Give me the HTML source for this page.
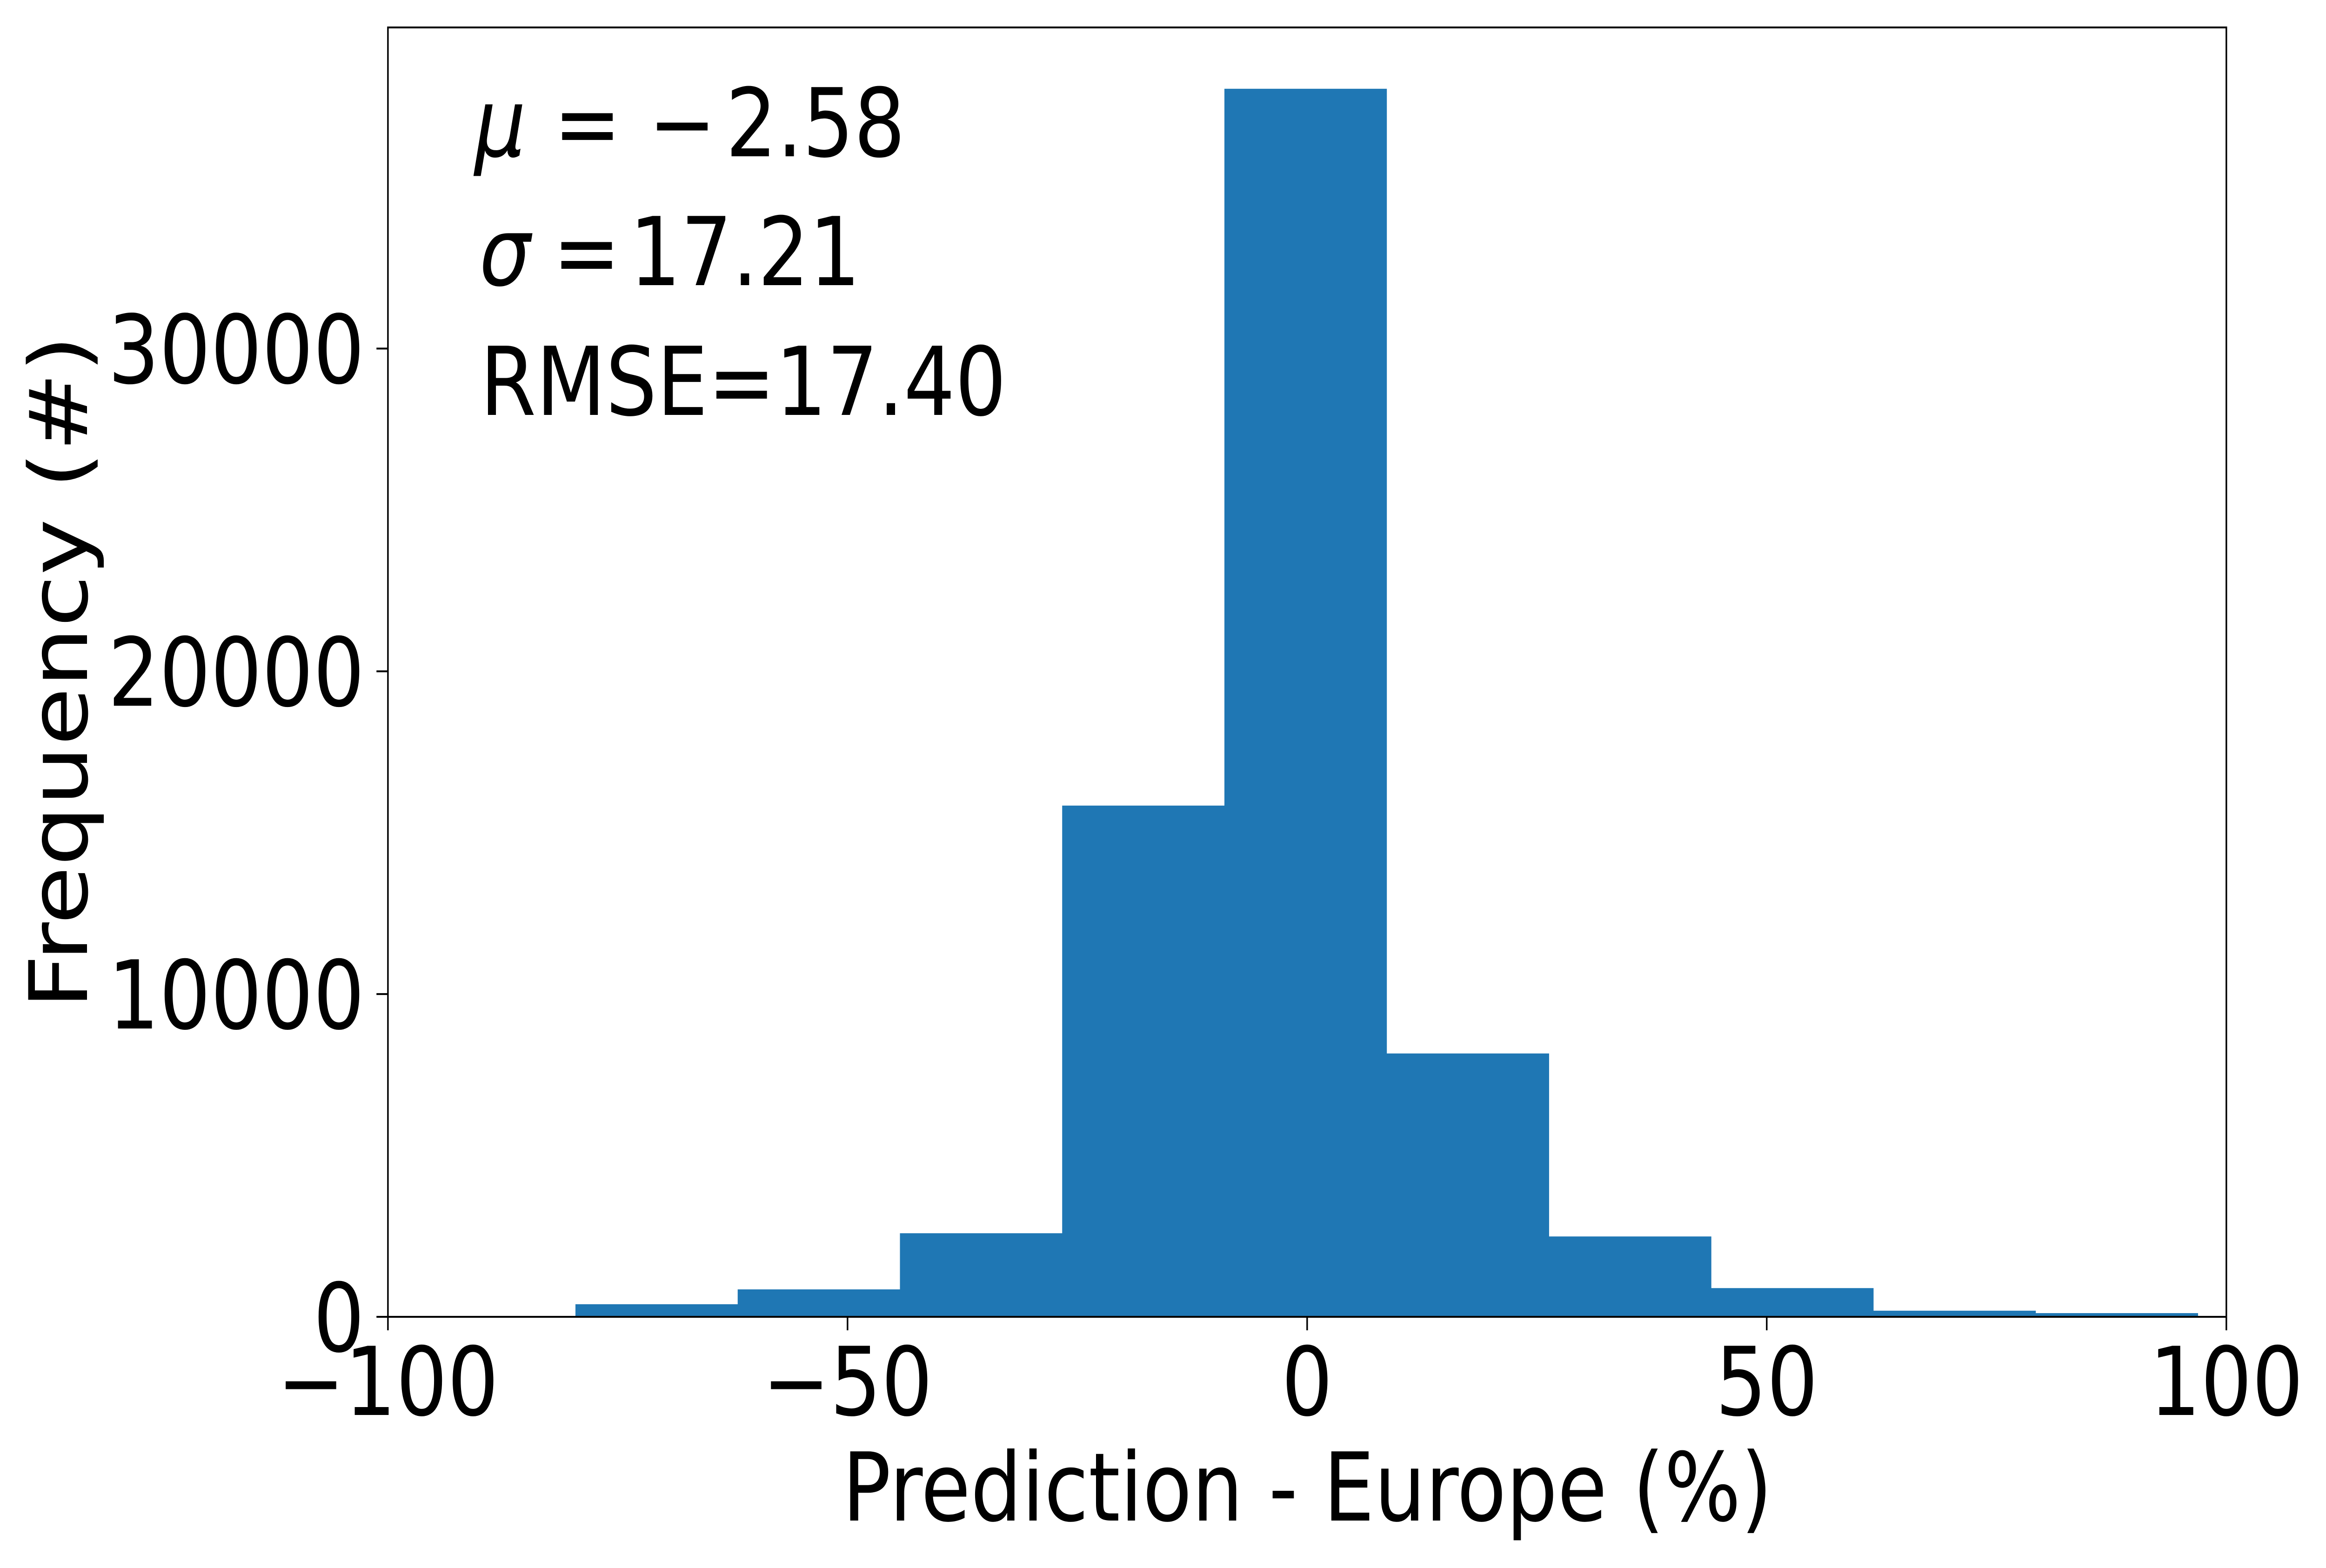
<!DOCTYPE html>
<html><head><meta charset="utf-8"><style>
html,body{margin:0;padding:0;background:#fff;width:100%;height:100%;overflow:hidden;}
svg{display:block;position:absolute;left:0;top:0;width:100vw;height:100vh;font-family:"DejaVu Sans","Liberation Sans",sans-serif;}
</style></head><body>
<svg id="chart" viewBox="0 0 5882 3371" preserveAspectRatio="none" xmlns="http://www.w3.org/2000/svg">
<rect width="5882" height="3371" fill="#fff"/>
<g id="bars"></g>
<g id="axes"></g>
<g font-size="204" fill="#000">
<text y="336"><tspan x="1200" font-style="italic">μ</tspan><tspan x="1400">=</tspan><tspan x="1640">−</tspan><tspan x="1835">2.58</tspan></text>
<text y="613"><tspan x="1212" font-style="italic">σ</tspan><tspan x="1398">=</tspan><tspan x="1592">17.21</tspan></text>
<text x="1214" y="892">RMSE=17.40</text>
</g>
<text x="3306" y="3269" font-size="204" text-anchor="middle">Prediction - Europe (%)</text>
<text transform="translate(220,1445) rotate(-90)" font-size="204" text-anchor="middle">Frequency (#)</text>
</svg>
<script>
const binEdges = [-79.6, -61.95, -44.3, -26.65, -9.0, 8.65, 26.3, 43.95, 61.6, 79.25, 96.9];
const counts = [390, 850, 2590, 15840, 38050, 8160, 2490, 890, 190, 115];
const xTicks = [-100, -50, 0, 50, 100];
const xTickLabels = ["−100", "−50", "0", "50", "100"];
const yTicks = [0, 10000, 20000, 30000];
const yTickLabels = ["0", "10000", "20000", "30000"];

const L = 981, R = 5630, T = 59, B = 2831;
const xMin = -100, xMax = 100, yMin = 0, yMax = 39950;
const NS = "http://www.w3.org/2000/svg";
function xs(v){ return L + (v - xMin) / (xMax - xMin) * (R - L); }
function ys(v){ return B - (v - yMin) / (yMax - yMin) * (B - T); }
function mk(tag, attrs, parent){
  const e = document.createElementNS(NS, tag);
  for (const k in attrs) e.setAttribute(k, attrs[k]);
  parent.appendChild(e);
  return e;
}
const barsG = document.getElementById('bars');
for (let i = 0; i < counts.length; i++) {
  const x0 = xs(binEdges[i]), x1 = xs(binEdges[i+1]);
  const r = mk('rect', {x: x0, y: ys(counts[i]), width: x1 - x0 + 0.5, height: ys(0) - ys(counts[i]), fill: '#1f77b4'}, barsG);
  
  
}
const ax = document.getElementById('axes');
const frame = mk('rect', {x: L, y: T, width: R - L, height: B - T, fill: 'none', stroke: '#000', 'stroke-width': 4}, ax);


for (let i = 0; i < xTicks.length; i++) {
  const x = xs(xTicks[i]);
  const t = mk('line', {x1: x, x2: x, y1: B, y2: B + 29, stroke: '#000', 'stroke-width': 4}, ax);
  
  
  const lb = mk('text', {x: x, y: 3042, 'font-size': 204, 'text-anchor': 'middle'}, ax);
  lb.textContent = xTickLabels[i];
  
  
}
for (let i = 0; i < yTicks.length; i++) {
  const y = ys(yTicks[i]);
  const t = mk('line', {x1: L - 29, x2: L, y1: y, y2: y, stroke: '#000', 'stroke-width': 4}, ax);
  
  
  const lb = mk('text', {x: 922, y: y + 74, 'font-size': 204, 'text-anchor': 'end'}, ax);
  lb.textContent = yTickLabels[i];
  
  
}
</script>
</body></html>
